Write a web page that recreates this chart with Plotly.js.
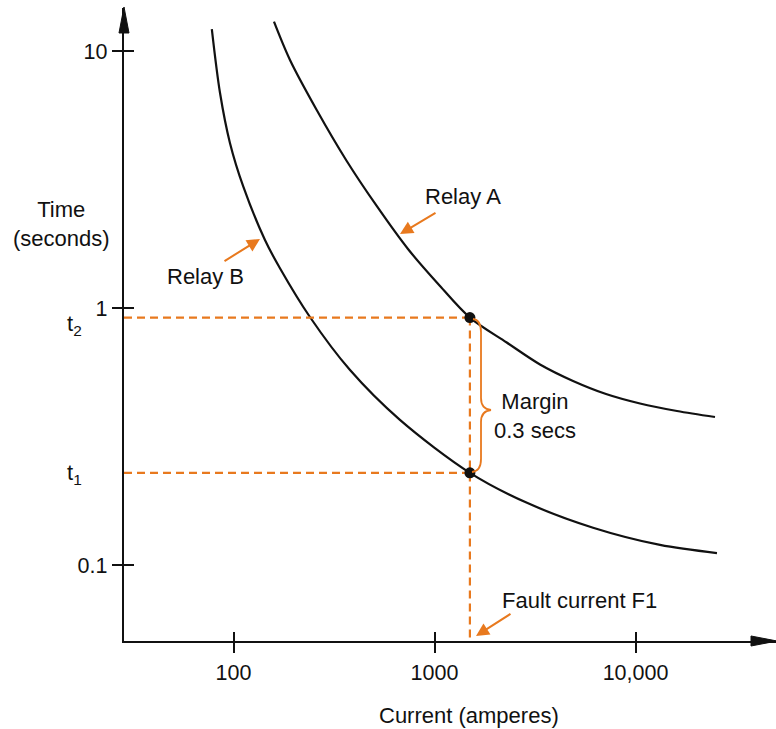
<!DOCTYPE html>
<html>
<head>
<meta charset="utf-8">
<script src="https://cdn.plot.ly/plotly-3.0.1.min.js"></script>
<style>html,body{margin:0;padding:0;background:#fff;}#chart{width:776px;height:729px;}</style>
</head>
<body>
<div id="chart"></div>
<script>
// ---- data ----
const relayA_current = [159, 191, 259.4, 365.8, 515.7, 738, 1065, 1500, 2287, 3349, 4889, 7134, 10530, 16090, 24860];
const relayA_time    = [13.04, 9.25, 5.91, 3.743, 2.501, 1.701, 1.221, 0.92, 0.736, 0.6045, 0.5215, 0.464, 0.4262, 0.3985, 0.3776];
const relayB_current = [78, 85.7, 96, 111.9, 143.4, 170, 240, 380, 673, 1500, 2884, 6150, 13240, 25430];
const relayB_time    = [12.2, 6.88, 4.40, 2.973, 1.844, 1.435, 0.925, 0.575, 0.368, 0.229, 0.175, 0.140, 0.120, 0.1116];
const faultCurrent = 1500;
const t2 = 0.92;
const t1 = 0.229;
const xTickVals = [100, 1000, 10000];
const xTickText = ["100", "1000", "10,000"];
const yTickVals = [0.1, 1, 10];
const yTickText = ["0.1", "1", "10"];

// ---- layout helpers ----
const W = 776, H = 729;
const M = {l: 124, r: 0, t: 8, b: 88};
const PW = W - M.l - M.r, PH = H - M.t - M.b;
const px = x => (x - M.l) / PW;
const py = y => (H - M.b - y) / PH;
const xRange = [1.4552, 4.699];
const yRange = [-1.2946, 1.1685];
const xMin = Math.pow(10, xRange[0]);
const yMin = Math.pow(10, yRange[0]);

const ORANGE = '#E8791E';
const FONT = {family: 'Liberation Sans, Arial, Helvetica, sans-serif', size: 22, color: '#111'};
const TICKFONT = {family: 'Liberation Sans, Arial, Helvetica, sans-serif', size: 21.5, color: '#111'};

const curveLine = {color: '#111', width: 2.2, shape: 'spline', smoothing: 0.9};
const dashLine = {color: ORANGE, width: 2.2, dash: '8px,5px'};

const traces = [
  {x: relayA_current, y: relayA_time, mode: 'lines', line: curveLine, hoverinfo: 'skip'},
  {x: relayB_current, y: relayB_time, mode: 'lines', line: curveLine, hoverinfo: 'skip'},
  {x: [xMin, faultCurrent], y: [t2, t2], mode: 'lines', line: dashLine, hoverinfo: 'skip'},
  {x: [xMin, faultCurrent], y: [t1, t1], mode: 'lines', line: dashLine, hoverinfo: 'skip'},
  {x: [faultCurrent, faultCurrent], y: [t2, yMin], mode: 'lines', line: dashLine, hoverinfo: 'skip'},
  {x: [faultCurrent, faultCurrent], y: [t2, t1], mode: 'markers', xaxis: 'x2', yaxis: 'y2',
   marker: {color: '#111', size: 11}, hoverinfo: 'skip'}
];

const baseX = {type: 'log', range: xRange, showgrid: false, zeroline: false, fixedrange: true};
const baseY = {type: 'log', range: yRange, showgrid: false, zeroline: false, fixedrange: true};

// brace path (paper coords)
const P = (x, y) => px(x).toFixed(5) + ',' + py(y).toFixed(5);
const bracePath = 'M' + P(473, 319) + ' Q' + P(481, 320) + ' ' + P(481, 332) +
  ' L' + P(481, 398) + ' Q' + P(481, 409) + ' ' + P(491, 410) +
  ' Q' + P(481, 411) + ' ' + P(481, 422) +
  ' L' + P(481, 459) + ' Q' + P(481, 471) + ' ' + P(472, 472);

const triY = 'M' + P(124, 7) + ' L' + P(119, 33) + ' L' + P(129, 33) + ' Z';
const triX = 'M' + P(777, 641) + ' L' + P(751, 636) + ' L' + P(751, 646) + ' Z';

const txt = (text, x, y, extra) => Object.assign({
  text: text, xref: 'paper', yref: 'paper', x: px(x), y: py(y),
  xanchor: 'center', yanchor: 'middle', showarrow: false, font: FONT
}, extra || {});
const arr = (tipX, tipY, tailX, tailY) => ({
  text: '', xref: 'paper', yref: 'paper', x: px(tipX), y: py(tipY),
  ax: tailX - tipX, ay: tailY - tipY, showarrow: true,
  arrowhead: 2, arrowsize: 1.3, arrowwidth: 2, arrowcolor: ORANGE, standoff: 0
});

const layout = {
  width: W, height: H, margin: M, showlegend: false,
  paper_bgcolor: '#fff', plot_bgcolor: '#fff', font: FONT,
  xaxis: Object.assign({}, baseX, {
    showline: true, linecolor: '#111', linewidth: 2.2,
    ticks: 'outside', ticklen: 10, tickwidth: 2, tickcolor: '#111',
    tickvals: xTickVals, ticktext: xTickText, tickfont: TICKFONT, ticklabelstandoff: 1
  }),
  yaxis: Object.assign({}, baseY, {
    showline: true, linecolor: '#111', linewidth: 2.2,
    ticks: 'outside', ticklen: 10, tickwidth: 2, tickcolor: '#111',
    tickvals: yTickVals, ticktext: yTickText, tickfont: TICKFONT, ticklabelstandoff: 0
  }),
  xaxis2: Object.assign({}, baseX, {overlaying: 'x', anchor: 'y2', side: 'bottom',
    ticks: 'inside', ticklen: 9, tickwidth: 2, tickcolor: '#111',
    tickvals: xTickVals, showticklabels: false, showline: false}),
  yaxis2: Object.assign({}, baseY, {overlaying: 'y', anchor: 'x2', side: 'left',
    ticks: 'inside', ticklen: 10, tickwidth: 2, tickcolor: '#111',
    tickvals: yTickVals, showticklabels: false, showline: false}),
  shapes: [
    {type: 'path', xref: 'paper', yref: 'paper', path: bracePath, line: {color: ORANGE, width: 1.8}},
    {type: 'path', xref: 'paper', yref: 'paper', path: triY, fillcolor: '#111', line: {color: '#111', width: 1}},
    {type: 'path', xref: 'paper', yref: 'paper', path: triX, fillcolor: '#111', line: {color: '#111', width: 1}}
  ],
  annotations: [
    txt('Time<br>(seconds)', 62, 224),
    txt('t<sub>2</sub>', 74, 325),
    txt('t<sub>1</sub>', 74, 474),
    txt('Relay A', 463, 196),
    txt('Relay B', 205, 276),
    txt('Margin<br>0.3 secs', 535, 416),
    txt('Fault current F1', 579, 600),
    txt('Current (amperes)', 469, 715),
    arr(400, 234, 437, 212),
    arr(260, 239, 223, 262),
    arr(476, 636, 512, 613)
  ]
};

Plotly.newPlot('chart', traces, layout, {staticPlot: true, displayModeBar: false});
</script>
</body>
</html>
